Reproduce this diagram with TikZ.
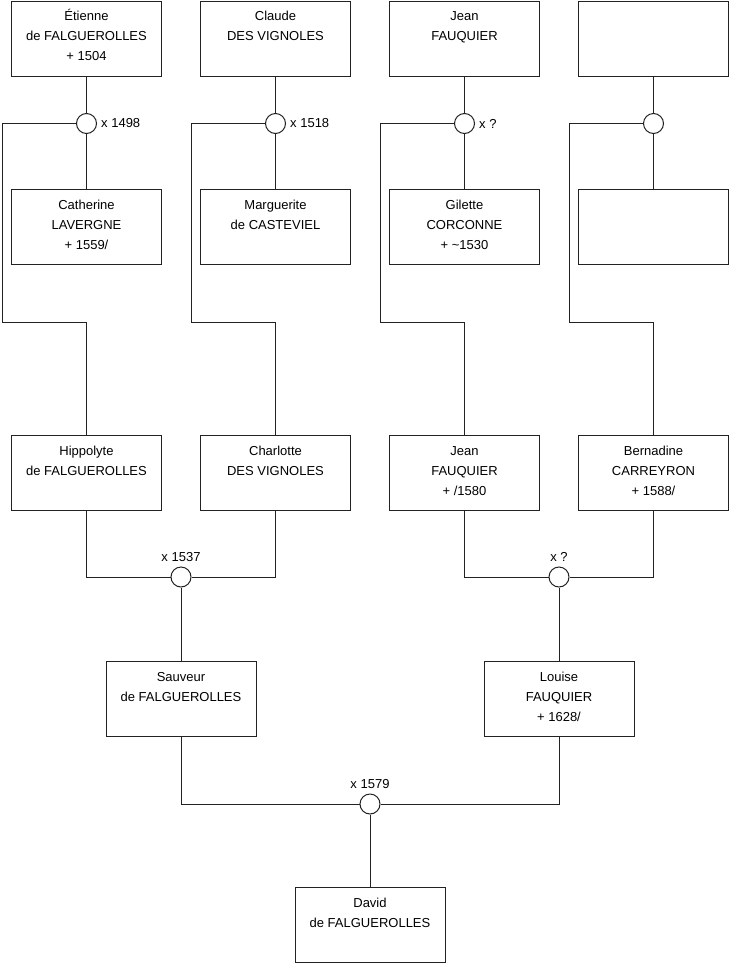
\documentclass[tikz,border=0pt]{standalone}
\usepackage{fontspec}
\setmainfont{Liberation Sans}
\definecolor{linec}{HTML}{222222}
\tikzset{
  pbox/.style={draw=linec, line width=1pt, fill=white, minimum width=150pt, minimum height=75pt, inner sep=0pt},
  ptext/.style={font=\fontsize{13}{20}\selectfont, align=center, anchor=north, inner sep=0pt, text=black},
  marr/.style={circle, draw=linec, line width=1pt, fill=white, minimum size=20pt, inner sep=0pt},
  mlab/.style={font=\fontsize{13}{16}\selectfont, inner sep=0pt, text=black},
  conn/.style={draw=linec, line width=1pt}
}
\newcommand{\fst}{\rule{0pt}{11pt}}
\begin{document}
\begin{tikzpicture}[x=1pt, y=-1pt]
\useasboundingbox (0,0) rectangle (740,975);
% row 1
\node[pbox] (e1) at (86.5,38.5) {};
\node[pbox] (e2) at (275.5,38.5) {};
\node[pbox] (e3) at (464.5,38.5) {};
\node[pbox] (e4) at (653.5,38.5) {};
\node[ptext] (te1) at ([yshift=-9pt]e1.north) {\fst Étienne\\de FALGUEROLLES\\+ 1504};
\node[ptext] (te2) at ([yshift=-9pt]e2.north) {\fst Claude\\DES VIGNOLES};
\node[ptext] (te3) at ([yshift=-9pt]e3.north) {\fst Jean\\FAUQUIER};
% row 2
\node[pbox] (w1) at (86.5,226.5) {};
\node[pbox] (w2) at (275.5,226.5) {};
\node[pbox] (w3) at (464.5,226.5) {};
\node[pbox] (w4) at (653.5,226.5) {};
\node[ptext] (tw1) at ([yshift=-9.5pt]w1.north) {\fst Catherine\\LAVERGNE\\+ 1559/};
\node[ptext] (tw2) at ([yshift=-9.5pt]w2.north) {\fst Marguerite\\de CASTEVIEL};
\node[ptext] (tw3) at ([yshift=-9.5pt]w3.north) {\fst Gilette\\CORCONNE\\+ \textasciitilde1530};
% marriage circles row 1
\node[marr] (c1) at (86.5,123.5) {};
\node[marr] (c2) at (275.5,123.5) {};
\node[marr] (c3) at (464.5,123.5) {};
\node[marr] (c4) at (653.5,123.5) {};
\node[mlab, anchor=west] (lc1) at ([xshift=4pt]c1.east) {x 1498};
\node[mlab, anchor=west] (lc2) at ([xshift=4pt]c2.east) {x 1518};
\node[mlab, anchor=west] (lc3) at ([xshift=4pt]c3.east) {x ?};
% row 3
\node[pbox] (h1) at (86.5,472.5) {};
\node[pbox] (h2) at (275.5,472.5) {};
\node[pbox] (h3) at (464.5,472.5) {};
\node[pbox] (h4) at (653.5,472.5) {};
\node[ptext] (th1) at ([yshift=-9.5pt]h1.north) {\fst Hippolyte\\de FALGUEROLLES};
\node[ptext] (th2) at ([yshift=-9.5pt]h2.north) {\fst Charlotte\\DES VIGNOLES};
\node[ptext] (th3) at ([yshift=-9.5pt]h3.north) {\fst Jean\\FAUQUIER\\+ /1580};
\node[ptext] (th4) at ([yshift=-9.5pt]h4.north) {\fst Bernadine\\CARREYRON\\+ 1588/};
% marriage circles row 3
\node[marr] (m1) at (181,577) {};
\node[marr] (m2) at (559,577) {};
\node[mlab, anchor=base] (lm1) at ([yshift=5pt]m1.north) {x 1537};
\node[mlab, anchor=base] (lm2) at ([yshift=5pt]m2.north) {x ?};
% row 4
\node[pbox] (s1) at (181,698.5) {};
\node[pbox] (s2) at (559,698.5) {};
\node[ptext] (ts1) at ([yshift=-9.5pt]s1.north) {\fst Sauveur\\de FALGUEROLLES};
\node[ptext] (ts2) at ([yshift=-9.5pt]s2.north) {\fst Louise\\FAUQUIER\\+ 1628/};
% final marriage
\node[marr] (m3) at (370,804) {};
\node[mlab, anchor=base] (lm3) at ([yshift=5pt]m3.north) {x 1579};
% row 5
\node[pbox] (d) at (370,924.5) {};
\node[ptext] (td) at ([yshift=-9.5pt]d.north) {\fst David\\de FALGUEROLLES};
% corner coordinates for the long left connectors
\coordinate (k1a) at (2.5,123.5);   \coordinate (k1b) at (2.5,322);
\coordinate (k2a) at (191.5,123.5); \coordinate (k2b) at (191.5,322);
\coordinate (k3a) at (380.5,123.5); \coordinate (k3b) at (380.5,322);
\coordinate (k4a) at (569.5,123.5); \coordinate (k4b) at (569.5,322);
% connectors
\foreach \i in {1,2,3,4} {
  \draw[conn] (e\i.south) -- (c\i.north);
  \draw[conn] (c\i.south) -- (w\i.north);
  \draw[conn] (c\i.west) -- (k\i a) -- (k\i b) -| (h\i.north);
}
\draw[conn] (h1.south) |- (m1.west);
\draw[conn] (h2.south) |- (m1.east);
\draw[conn] (m1.south) -- (s1.north);
\draw[conn] (h3.south) |- (m2.west);
\draw[conn] (h4.south) |- (m2.east);
\draw[conn] (m2.south) -- (s2.north);
\draw[conn] (s1.south) |- (m3.west);
\draw[conn] (s2.south) |- (m3.east);
\draw[conn] (m3.south) -- (d.north);
\end{tikzpicture}
\end{document}
